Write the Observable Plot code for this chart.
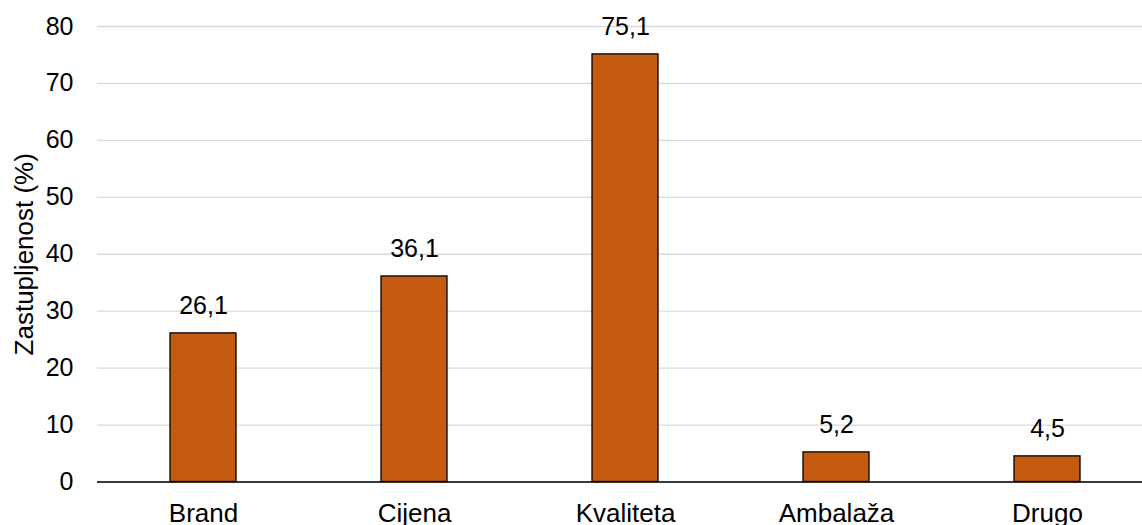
<!DOCTYPE html>
<html>
<head>
<meta charset="utf-8">
<script src="https://cdn.jsdelivr.net/npm/d3@7"></script>
<script src="https://cdn.jsdelivr.net/npm/@observablehq/plot@0.6"></script>
<style>
html,body{margin:0;padding:0;background:#fff;overflow:hidden;}
</style>
</head>
<body>
<div id="chart"></div>
<script>
const categories = ["Brand", "Cijena", "Kvaliteta", "Ambalaža", "Drugo"];
const values = [26.1, 36.1, 75.1, 5.2, 4.5];
const yTicks = [0, 10, 20, 30, 40, 50, 60, 70, 80];
const yTitle = "Zastupljenost (%)";

const data = categories.map((c, i) => ({category: c, value: values[i]}));
const fmt = v => v.toFixed(1).replace(".", ",");

const chart = Plot.plot({
  width: 1142,
  height: 525,
  marginLeft: 97,
  marginRight: -12,
  marginTop: 26,
  marginBottom: 43.5,
  style: {fontFamily: "Liberation Sans, Arial, sans-serif", fontSize: "25px", color: "#000", background: "#fff"},
  x: {domain: categories, paddingInner: 0.685, paddingOuter: 0.3425, label: null},
  y: {domain: [0, 80], ticks: yTicks, label: null},
  marks: [
    Plot.gridY(yTicks, {stroke: "#d9d9d9", strokeOpacity: 1, strokeWidth: 1.3}),
    Plot.barY(data, {x: "category", y: "value", fill: "#C55A11", stroke: "#000", strokeWidth: 1.3}),
    Plot.text(data, {x: "category", y: "value", text: d => fmt(d.value), dy: -27.5, fontSize: 25, fill: "#000"}),
    Plot.ruleY([0], {stroke: "#000", strokeWidth: 1.3}),
    Plot.ruleX([0], {x: () => 0, stroke: "#000", strokeWidth: 1.3}),
    Plot.axisX({tickSize: 0, tickPadding: 21.5, fontSize: 26, label: null}),
    Plot.axisY({ticks: yTicks, tickSize: 0, tickPadding: 24, fontSize: 25, label: null}),
    Plot.text([yTitle], {frameAnchor: "left", textAnchor: "middle", rotate: -90, dx: -73, fontSize: 26, fill: "#000"})
  ]
});
document.getElementById("chart").appendChild(chart);
</script>
</body>
</html>
